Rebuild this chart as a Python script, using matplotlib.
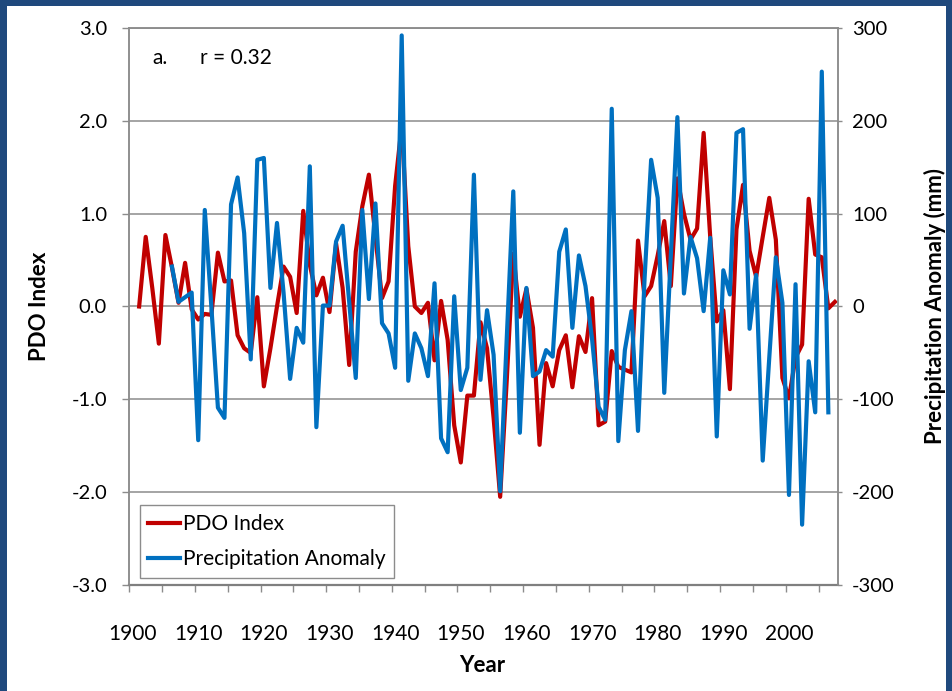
import matplotlib
matplotlib.use("Agg")
import numpy as np
import matplotlib.pyplot as plt
from matplotlib.patches import Rectangle
from matplotlib.ticker import MultipleLocator, FormatStrFormatter

plt.rcParams["font.family"] = ["Lato", "DejaVu Sans"]
plt.rcParams["axes.unicode_minus"] = False

RED = "#C00000"
BLUE = "#0070C0"
GRID = "#8C8C8C"
FRAME = "#1F497D"

# PDO index, 1901-2007
pdo_years = np.arange(1901, 2008)
pdo = [
    0.00, 0.75, 0.20, -0.40, 0.77, 0.42, 0.04, 0.47, -0.03, -0.14,
    -0.08, -0.09, 0.58, 0.27, 0.28, -0.31, -0.45, -0.50, 0.10, -0.86,
    -0.45, 0.00, 0.43, 0.32, -0.07, 1.03, 0.45, 0.12, 0.31, -0.06,
    0.68, 0.20, -0.63, 0.59, 1.08, 1.42, 0.75, 0.09, 0.27, 1.30,
    1.95, 0.65, 0.00, -0.07, 0.04, -0.58, 0.06, -0.36, -1.28, -1.68,
    -0.96, -0.96, -0.17, -0.45, -1.20, -2.05, -0.80, 0.57, -0.11, 0.19,
    -0.23, -1.49, -0.61, -0.86, -0.47, -0.31, -0.87, -0.32, -0.49, 0.09,
    -1.28, -1.24, -0.48, -0.65, -0.68, -0.71, 0.71, 0.11, 0.22, 0.55,
    0.92, 0.22, 1.38, 1.00, 0.72, 0.84, 1.87, 0.75, -0.16, -0.04,
    -0.89, 0.83, 1.31, 0.60, 0.32, 0.75, 1.17, 0.72, -0.77, -0.99,
    -0.55, -0.41, 1.16, 0.56, 0.53, -0.02, 0.05,
]

# precipitation anomaly (mm), 1906-2006
precip_years = np.arange(1906, 2007)
precip = [
    43, 5, 10, 15, -144, 104, 0, -109, -120, 110,
    139, 79, -57, 158, 160, 20, 90, 15, -78, -23,
    -39, 151, -130, 1, 1, 70, 87, 5, -77, 104,
    8, 111, -18, -29, -66, 292, -80, -29, -45, -75,
    25, -142, -157, 11, -90, -66, 142, -79, -4, -52,
    -199, -35, 124, -136, 20, -75, -70, -47, -54, 59,
    83, -23, 55, 22, -35, -108, -122, 213, -145, -47,
    -5, -134, 30, 158, 117, -93, 55, 204, 14, 75,
    52, -5, 74, -140, 39, 13, 187, 191, -24, 34,
    -166, -55, 53, 4, -203, 24, -235, -59, -114, 253,
    -114,
]

year_labels = np.arange(1900, 2001, 10)

fig = plt.figure(figsize=(9.53, 6.91), dpi=100)
fig.patch.set_facecolor(FRAME)
fig.patches.append(Rectangle((7 / 953, 0), (946 - 7) / 953, 685 / 691,
                             transform=fig.transFigure, facecolor="white",
                             edgecolor="none", zorder=-5))

ax = fig.add_axes([129.3 / 953, 1 - 585 / 691, (838.2 - 129.3) / 953, 557 / 691])
ax.set_facecolor("none")
ax.plot(pdo_years, pdo, color=RED, lw=3.0, label="PDO Index", zorder=3)
ax.set_xlim(1899.5, 2007.5)
ax.set_ylim(-3, 3)
ax.yaxis.set_major_locator(MultipleLocator(1))
ax.yaxis.set_major_formatter(FormatStrFormatter("%.1f"))
ax.set_xticks(year_labels)
ax.set_xticks(np.arange(1899.5, 2008, 5), minor=True)
ax.tick_params(axis="x", which="major", length=0, pad=28, labelsize=15)
ax.tick_params(axis="x", which="minor", length=5, width=1, color=GRID, direction="out")
ax.tick_params(axis="y", length=5, width=1, color=GRID, pad=11, labelsize=14.5)
ax.yaxis.grid(True, color=GRID, lw=1.1, zorder=0)
for s in ax.spines.values():
    s.set_color(GRID)
    s.set_linewidth(1.1)
ax.spines["bottom"].set_color("#7F7F7F")
ax.spines["bottom"].set_linewidth(1.6)

ax2 = ax.twinx()
ax2.plot(precip_years, precip, color=BLUE, lw=3.0, label="Precipitation Anomaly", zorder=3)
ax2.set_ylim(-300, 300)
ax2.yaxis.set_major_locator(MultipleLocator(100))
ax2.tick_params(axis="y", length=3, width=1, color=GRID, pad=7, labelsize=14.5)
for s in ax2.spines.values():
    s.set_color(GRID)
    s.set_linewidth(1.1)
ax2.spines["bottom"].set_visible(False)

ax.set_ylabel("PDO Index", fontsize=16, fontweight="bold", va="center")
ax.yaxis.set_label_coords(-0.126, 0.5)
ax2.set_ylabel("Precipitation Anomaly (mm)", fontsize=16, fontweight="bold",
               va="center", rotation=90)
ax2.yaxis.set_label_coords(1.136, 0.5)
ax.set_xlabel("Year", fontsize=16, fontweight="bold", va="center")
ax.xaxis.set_label_coords(0.498, -0.144)

ax.text(0.032, 0.946, "a.", transform=ax.transAxes, fontsize=15, va="center", ha="left")
ax.text(0.10, 0.946, "r = 0.32", transform=ax.transAxes, fontsize=15, va="center", ha="left")

h1, l1 = ax.get_legend_handles_labels()
h2, l2 = ax2.get_legend_handles_labels()
leg = ax2.legend(h1 + h2, l1 + l2, loc="lower left", bbox_to_anchor=(0.015, 0.013),
                 borderaxespad=0, fontsize=15, fancybox=False, framealpha=1,
                 edgecolor=GRID, handlelength=1.5, handletextpad=0.15,
                 labelspacing=0.75, borderpad=0.4)
leg.get_frame().set_linewidth(1.0)

fig.savefig("out.png", dpi=100, facecolor=fig.get_facecolor())
